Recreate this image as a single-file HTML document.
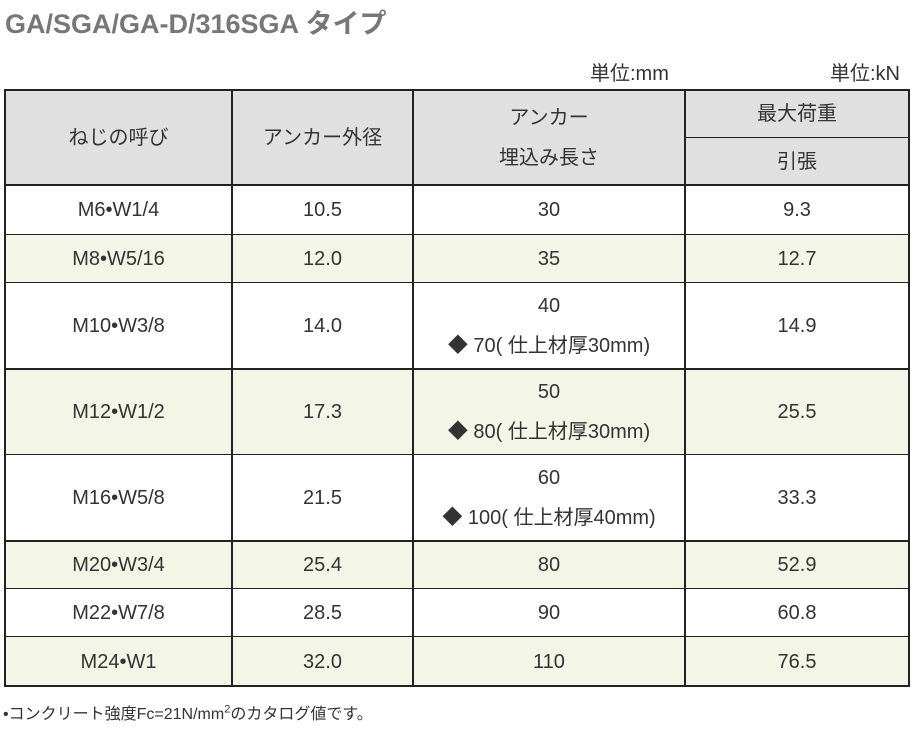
<!DOCTYPE html><html><head><meta charset="utf-8"><style>
body{margin:0;width:913px;height:734px;background:#fff;position:relative;overflow:hidden;font-family:"Liberation Sans","Noto Sans CJK JP",sans-serif;color:#333}
.c{position:absolute;display:flex;flex-direction:column;align-items:center;justify-content:center;font-size:20px;line-height:40px;text-align:center}
.c span{display:block}
.h{position:absolute;background:#222;height:2px}
.v{position:absolute;background:#222;width:2px}
</style></head><body>
<div style="position:absolute;left:5px;top:2px;font-size:27px;font-weight:bold;color:#777">GA/SGA/GA-D/316SGA タイプ</div>
<div style="position:absolute;left:590px;top:57px;font-size:20px">単位:mm</div>
<div style="position:absolute;left:830px;top:57px;font-size:20px">単位:kN</div>
<div style="position:absolute;left:5px;top:90px;width:904px;height:95px;background:#e0e0e0"></div>
<div style="position:absolute;left:5px;top:235px;width:904px;height:48px;background:#f3f5e7"></div>
<div style="position:absolute;left:5px;top:369px;width:904px;height:86px;background:#f3f5e7"></div>
<div style="position:absolute;left:5px;top:541px;width:904px;height:48px;background:#f3f5e7"></div>
<div style="position:absolute;left:5px;top:637px;width:904px;height:49px;background:#f3f5e7"></div>

<div class="c" style="left:5px;top:90px;width:227px;height:95px">ねじの呼び</div>
<div class="c" style="left:232px;top:90px;width:181px;height:95px">アンカー外径</div>
<div class="c" style="left:413px;top:90px;width:272px;height:95px"><span>アンカー</span><span>埋込み長さ</span></div>
<div class="c" style="left:685px;top:90px;width:224px;height:48px">最大荷重</div>
<div class="c" style="left:685px;top:138px;width:224px;height:47px">引張</div>

<div class="c" style="left:5px;top:185px;width:227px;height:50px">M6•W1/4</div>
<div class="c" style="left:232px;top:185px;width:181px;height:50px">10.5</div>
<div class="c" style="left:413px;top:185px;width:272px;height:50px">30</div>
<div class="c" style="left:685px;top:185px;width:224px;height:50px">9.3</div>

<div class="c" style="left:5px;top:235px;width:227px;height:48px">M8•W5/16</div>
<div class="c" style="left:232px;top:235px;width:181px;height:48px">12.0</div>
<div class="c" style="left:413px;top:235px;width:272px;height:48px">35</div>
<div class="c" style="left:685px;top:235px;width:224px;height:48px">12.7</div>

<div class="c" style="left:5px;top:283px;width:227px;height:86px">M10•W3/8</div>
<div class="c" style="left:232px;top:283px;width:181px;height:86px">14.0</div>
<div class="c" style="left:413px;top:283px;width:272px;height:86px"><span>40</span><span>◆ 70( 仕上材厚30mm)</span></div>
<div class="c" style="left:685px;top:283px;width:224px;height:86px">14.9</div>

<div class="c" style="left:5px;top:369px;width:227px;height:86px">M12•W1/2</div>
<div class="c" style="left:232px;top:369px;width:181px;height:86px">17.3</div>
<div class="c" style="left:413px;top:369px;width:272px;height:86px"><span>50</span><span>◆ 80( 仕上材厚30mm)</span></div>
<div class="c" style="left:685px;top:369px;width:224px;height:86px">25.5</div>

<div class="c" style="left:5px;top:455px;width:227px;height:86px">M16•W5/8</div>
<div class="c" style="left:232px;top:455px;width:181px;height:86px">21.5</div>
<div class="c" style="left:413px;top:455px;width:272px;height:86px"><span>60</span><span>◆ 100( 仕上材厚40mm)</span></div>
<div class="c" style="left:685px;top:455px;width:224px;height:86px">33.3</div>

<div class="c" style="left:5px;top:541px;width:227px;height:48px">M20•W3/4</div>
<div class="c" style="left:232px;top:541px;width:181px;height:48px">25.4</div>
<div class="c" style="left:413px;top:541px;width:272px;height:48px">80</div>
<div class="c" style="left:685px;top:541px;width:224px;height:48px">52.9</div>

<div class="c" style="left:5px;top:589px;width:227px;height:48px">M22•W7/8</div>
<div class="c" style="left:232px;top:589px;width:181px;height:48px">28.5</div>
<div class="c" style="left:413px;top:589px;width:272px;height:48px">90</div>
<div class="c" style="left:685px;top:589px;width:224px;height:48px">60.8</div>

<div class="c" style="left:5px;top:637px;width:227px;height:49px">M24•W1</div>
<div class="c" style="left:232px;top:637px;width:181px;height:49px">32.0</div>
<div class="c" style="left:413px;top:637px;width:272px;height:49px">110</div>
<div class="c" style="left:685px;top:637px;width:224px;height:49px">76.5</div>

<div class="h" style="left:4px;top:89px;width:906px"></div>
<div class="h" style="left:4px;top:184px;width:906px"></div>
<div class="h" style="left:4px;top:234px;width:906px;height:1px"></div>
<div class="h" style="left:4px;top:282px;width:906px;height:1px"></div>
<div class="h" style="left:4px;top:368px;width:906px"></div>
<div class="h" style="left:4px;top:454px;width:906px;height:1px"></div>
<div class="h" style="left:4px;top:540px;width:906px"></div>
<div class="h" style="left:4px;top:588px;width:906px;height:1px"></div>
<div class="h" style="left:4px;top:636px;width:906px;height:1px"></div>
<div class="h" style="left:4px;top:685px;width:906px"></div>
<div class="h" style="left:685px;top:137px;width:224px;height:1px"></div>
<div class="v" style="left:4px;top:89px;height:598px"></div>
<div class="v" style="left:231px;top:89px;height:598px"></div>
<div class="v" style="left:412px;top:89px;height:598px"></div>
<div class="v" style="left:684px;top:89px;height:598px"></div>
<div class="v" style="left:908px;top:89px;height:598px"></div>

<div style="position:absolute;left:3px;top:700px;font-size:16px">•コンクリート強度Fc=21N/mm<sup style="font-size:11px">2</sup>のカタログ値です。</div>
</body></html>
